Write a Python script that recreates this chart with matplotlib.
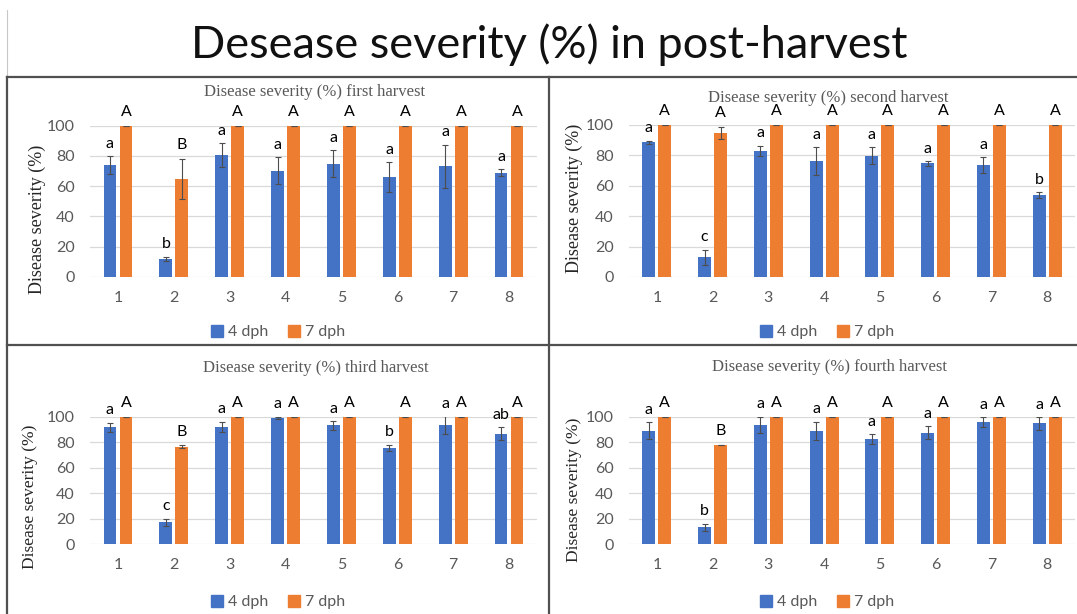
import numpy as np
import matplotlib
matplotlib.use("Agg")
import matplotlib.pyplot as plt
from matplotlib.lines import Line2D
from matplotlib.patches import Patch

# --- dane ---
kategorie = [1, 2, 3, 4, 5, 6, 7, 8]
serie = ["4 dph", "7 dph"]
tytuly = ["Disease severity (%) first harvest",
          "Disease severity (%) second harvest",
          "Disease severity (%) third harvest",
          "Disease severity (%) fourth harvest"]

# first harvest
h1_4dph = [74, 11.7, 80.6, 70.3, 74.7, 66, 73, 69]
h1_4dph_err = [6, 1.5, 8, 9, 9, 10, 14.5, 2]
h1_7dph = [100, 64.7, 100, 100, 100, 100, 100, 100]
h1_7dph_err = [0, 13.5, 0, 0, 0, 0, 0, 0]
h1_lit4 = ["a", "b", "a", "a", "a", "a", "a", "a"]
h1_lit7 = ["A", "B", "A", "A", "A", "A", "A", "A"]

# second harvest
h2_4dph = [88.7, 13, 82.8, 76.4, 79.9, 74.8, 73.7, 53.8]
h2_4dph_err = [1, 5, 3.5, 9, 5.6, 1.5, 5, 2]
h2_7dph = [100, 94.7, 100, 100, 100, 100, 100, 100]
h2_7dph_err = [0, 4, 0, 0, 0, 0, 0, 0]
h2_lit4 = ["a", "c", "a", "a", "a", "a", "a", "b"]
h2_lit7 = ["A", "A", "A", "A", "A", "A", "A", "A"]

# third harvest
h3_4dph = [92, 17, 92.4, 99.2, 93.4, 75.8, 93.4, 86.9]
h3_4dph_err = [3.5, 3, 4, 1, 3.5, 2.5, 7, 5]
h3_7dph = [100, 76.6, 100, 100, 100, 100, 100, 100]
h3_7dph_err = [0, 1, 0, 0, 0, 0, 0, 0]
h3_lit4 = ["a", "c", "a", "a", "a", "b", "a", "ab"]
h3_lit7 = ["A", "B", "A", "A", "A", "A", "A", "A"]

# fourth harvest
h4_4dph = [89.2, 13, 93.7, 89.2, 82.4, 87.6, 96, 95]
h4_4dph_err = [6.5, 3, 6.5, 7, 4, 5, 4, 5]
h4_7dph = [100, 78, 100, 100, 100, 100, 100, 100]
h4_7dph_err = [0, 0.3, 0, 0, 0, 0, 0, 0]
h4_lit4 = ["a", "b", "a", "a", "a", "a", "a", "a"]
h4_lit7 = ["A", "B", "A", "A", "A", "A", "A", "A"]

NIEBIESKI = "#4472C4"
POMARANCZ = "#ED7D31"
SZARY = "#595959"

W, H = 1077, 614
fig = plt.figure(figsize=(W / 100, H / 100), dpi=100)
fig.patch.set_facecolor("white")


def osie_px(x0, x1, y0, y1):
    # prostokat w pikselach (od gory) -> wspolrzedne figury
    return fig.add_axes([x0 / W, 1 - y1 / H, (x1 - x0) / W, (y1 - y0) / H])


def panel(ax, v4, e4, v7, e7, l4, l7):
    x = np.array(kategorie)
    w = 0.23
    d = 0.143
    ax.bar(x - d, v4, w, color=NIEBIESKI, zorder=3)
    ax.bar(x + d, v7, w, color=POMARANCZ, zorder=3)
    ax.errorbar(x - d, v4, yerr=e4, fmt="none", ecolor="#4d4d4d",
                elinewidth=0.8, capsize=2.5, capthick=0.8, zorder=4)
    ax.errorbar(x + d, v7, yerr=e7, fmt="none", ecolor="#4d4d4d",
                elinewidth=0.8, capsize=2.5, capthick=0.8, zorder=4)
    for xi, v, e, t in zip(x - d, v4, e4, l4):
        ax.annotate(t, (xi, v + e), xytext=(0, 6), textcoords="offset points",
                    ha="center", va="baseline", fontsize=11.5, family="Lato",
                    color="black", annotation_clip=False)
    for xi, v, e, t in zip(x + d, v7, e7, l7):
        ax.annotate(t, (xi, v + e), xytext=(0, 7), textcoords="offset points",
                    ha="center", va="baseline", fontsize=11.5, family="Lato",
                    color="black", annotation_clip=False)
    ax.set_xlim(0.5, 8.5)
    ax.set_ylim(0, 100)
    ax.set_yticks(range(0, 101, 20))
    ax.set_xticks(x)
    ax.grid(axis="y", color="#d9d9d9", lw=0.9, zorder=0)
    ax.set_axisbelow(True)
    for s in ax.spines.values():
        s.set_visible(False)
    ax.tick_params(length=0, labelsize=11.5, colors=SZARY)
    ax.tick_params(axis="y", pad=11)
    ax.tick_params(axis="x", pad=10)
    for lab in ax.get_xticklabels() + ax.get_yticklabels():
        lab.set_family("Lato")


dane = [
    (h1_4dph, h1_4dph_err, h1_7dph, h1_7dph_err, h1_lit4, h1_lit7),
    (h2_4dph, h2_4dph_err, h2_7dph, h2_7dph_err, h2_lit4, h2_lit7),
    (h3_4dph, h3_4dph_err, h3_7dph, h3_7dph_err, h3_lit4, h3_lit7),
    (h4_4dph, h4_4dph_err, h4_7dph, h4_7dph_err, h4_lit4, h4_lit7),
]
prostokaty = [(90, 537, 125.7, 276.7), (629, 1075, 125, 277),
              (90, 537, 417, 544), (629, 1075, 417, 544)]
tytul_xy = [(315, 92), (828, 98), (316, 368), (830, 367)]
ylab_xy = [(37, 219, 13), (574, 198, 13), (30, 497, 12.5), (574, 490, 12.5)]
legenda_xy = [(278, 332), (827, 332), (278, 602), (827, 602)]

for i in range(4):
    ax = osie_px(*prostokaty[i])
    panel(ax, *dane[i])
    tx, ty = tytul_xy[i]
    fig.text(tx / W, 1 - ty / H, tytuly[i], ha="center", va="center",
             fontsize=12, family="Liberation Serif", color=SZARY)
    lx, ly, fs = ylab_xy[i]
    fig.text(lx / W, 1 - ly / H, "Disease severity (%)", rotation=90,
             ha="center", va="center", fontsize=fs,
             family="Liberation Serif", color="#262626")
    uchwyty = [Patch(color=NIEBIESKI), Patch(color=POMARANCZ)]
    gx, gy = legenda_xy[i]
    fig.legend(uchwyty, serie, loc="center", bbox_to_anchor=(gx / W, 1 - gy / H),
               ncol=2, frameon=False, handlelength=0.8, handleheight=0.8,
               handletextpad=0.3, columnspacing=1.2,
               prop={"family": "Lato", "size": 11.5}, labelcolor=SZARY)

# tytul slajdu
fig.text(549 / W, 1 - 45 / H, "Desease severity (%) in post-harvest",
         ha="center", va="center", fontsize=32.5, family="Lato",
         color="#111111")

# ramki paneli
def linia(x0, y0, x1, y1, c="#505050", lw=1.6):
    fig.add_artist(Line2D([x0 / W, x1 / W], [1 - y0 / H, 1 - y1 / H],
                          color=c, lw=lw))

linia(7, 10, 7, 77, c="#c8c8c8", lw=0.8)
linia(7, 77, 1077, 77)
linia(7, 77, 7, 614)
linia(549, 77, 549, 614)
linia(7, 345, 1077, 345)

fig.savefig("out.png", dpi=100)
